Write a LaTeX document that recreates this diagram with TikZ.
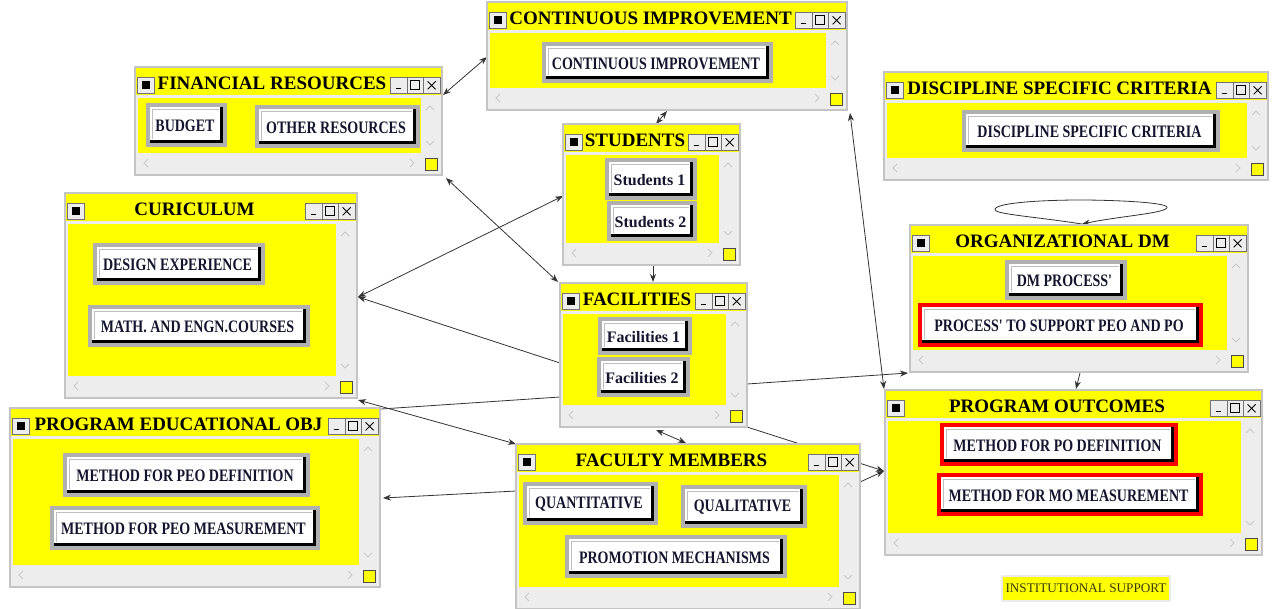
\documentclass[tikz,border=0pt]{standalone}
\usepackage{fontspec}
\setmainfont{Liberation Serif}
\newfontfamily\btnfont[FakeStretch=0.8]{Liberation Serif}
\newcommand\lcb{\rmfamily\fontsize{16}{16}\selectfont}
\usetikzlibrary{arrows.meta,calc}
\definecolor{ylw}{HTML}{FFFF00}
\definecolor{winbg}{HTML}{EDEDED}
\definecolor{winedge}{HTML}{C4C4C4}
\definecolor{bframe}{HTML}{B0B0B0}
\definecolor{btxt}{HTML}{14142E}
\definecolor{chev}{HTML}{C8C8C8}
\definecolor{insttxt}{HTML}{3A3A10}
\pgfdeclarelayer{bg}\pgfsetlayers{bg,main}
\tikzset{
 winframe/.style={draw=winedge, line width=2pt, fill=winbg, inner sep=0pt, outer sep=0pt},
 tbtn/.style={draw=black!55, fill=winbg, line width=0.7pt, inner sep=0pt, minimum height=16pt},
 ttl/.style={font=\bfseries\fontsize{19}{19}\selectfont, text=black, inner sep=0pt},
 btntext/.style={font=\btnfont\bfseries\fontsize{17.5}{17.5}\selectfont, text=btxt, inner sep=0pt},
 conn/.style={draw=black!80, line width=0.8pt},
 tip/.style={-{Stealth[length=8pt,width=6pt]}},
 tips/.style={{Stealth[length=8pt,width=6pt]}-{Stealth[length=8pt,width=6pt]}},
 chv/.style={draw=chev, line width=0.9pt},
}
\newcommand\win[6]{%
 \pgfmathsetmacro\wW{#4-#2}\pgfmathsetmacro\wH{#5-#3}%
 \node[winframe, minimum width=\wW pt, minimum height=\wH pt, anchor=north west] (#1) at (#2,#3) {};
 \fill[ylw] ({#2+1},{#3+1}) rectangle ({#4-1},{#3+28});
 \fill[ylw] ({#2+3},{#3+31}) rectangle ({#4-21},{#5-22});
 \node[tbtn, minimum width=17pt, anchor=north west] (#1-ic) at ({#2+2},{#3+10}) {};
 \fill[black] ([shift={(-4,-4)}]#1-ic.center) rectangle ([shift={(4,4)}]#1-ic.center);
 \node[tbtn, minimum width=16.5pt, anchor=north west] (#1-mn) at ({#4-52},{#3+10}) {};
 \node[tbtn, minimum width=16.5pt, anchor=north west] (#1-mx) at ({#4-35.5},{#3+10}) {};
 \node[tbtn, minimum width=16.5pt, anchor=north west] (#1-cl) at ({#4-19},{#3+10}) {};
 \draw[line width=1.6pt] ([shift={(-3,3)}]#1-mn.center) -- ([shift={(2,3)}]#1-mn.center);
 \draw[line width=0.8pt] ([shift={(-4.5,-4.5)}]#1-mx.center) rectangle ([shift={(4.5,4.5)}]#1-mx.center);
 \draw[line width=0.9pt] ([shift={(-4,-4)}]#1-cl.center) -- ([shift={(4,4)}]#1-cl.center) ([shift={(-4,4)}]#1-cl.center) -- ([shift={(4,-4)}]#1-cl.center);
 \node[ttl] (#1-tt) at ({(#2+#4-33)/2},{#3+16}) {#6};
 \draw[chv] ({#4-16},{#3+43}) -- ({#4-12},{#3+39}) -- ({#4-8},{#3+43});
 \draw[chv] ({#4-16},{#5-34}) -- ({#4-12},{#5-30}) -- ({#4-8},{#5-34});
 \draw[chv] ({#2+13},{#5-16}) -- ({#2+9},{#5-12}) -- ({#2+13},{#5-8});
 \draw[chv] ({#4-32},{#5-16}) -- ({#4-28},{#5-12}) -- ({#4-32},{#5-8});
 \filldraw[fill=ylw, draw=black!70, line width=0.8pt] ({#4-17},{#5-17}) rectangle ({#4-5},{#5-5});
}
\newcommand\btn[7]{%
 \fill[#7] (#2,#3) rectangle (#4,#5);
 \fill[black] ({#2+4},{#3+4}) rectangle ({#4-4},{#5-4});
 \fill[white] ({#2+4},{#3+4}) rectangle ({#4-7},{#5-7});
 \draw[black!25, line width=1pt] ({#2+6},{#5-8.5}) -- ({#2+6},{#3+6}) -- ({#4-8.5},{#3+6});
 \node[btntext] (#1) at ({(#2+#4-3)/2},{(#3+#5)/2+1}) {#6};
}
\begin{document}
\begin{tikzpicture}[x=1pt,y=-1pt]
\useasboundingbox (0,0) rectangle (1277,608);
% windows
\win{fin}{135}{67}{442}{175}{FINANCIAL RESOURCES}
\btn{fin-b1}{146}{103}{227}{147}{BUDGET}{bframe}
\btn{fin-b2}{255}{105}{420}{148}{OTHER RESOURCES}{bframe}
\win{ci}{487}{2}{847}{110}{CONTINUOUS IMPROVEMENT}
\btn{ci-b1}{542}{42}{773}{83}{CONTINUOUS IMPROVEMENT}{bframe}
\win{stu}{563}{124}{740}{265}{STUDENTS}
\btn{stu-b1}{605}{158}{697}{200}{\lcb Students 1}{bframe}
\btn{stu-b2}{607}{201}{697}{241}{\lcb Students 2}{bframe}
\win{dsc}{884}{72}{1268}{180}{DISCIPLINE SPECIFIC CRITERIA}
\btn{dsc-b1}{962}{110}{1220}{152}{DISCIPLINE SPECIFIC CRITERIA}{bframe}
\win{cur}{65}{193}{357}{398}{CURICULUM}
\btn{cur-b1}{93}{243}{265}{285}{DESIGN EXPERIENCE}{bframe}
\btn{cur-b2}{88}{305}{310}{347}{MATH. AND ENGN.COURSES}{bframe}
\win{fac}{560}{283}{747}{427}{FACILITIES}
\btn{fac-b1}{598}{317}{692}{355}{\lcb Facilities 1}{bframe}
\btn{fac-b2}{597}{357}{690}{397}{\lcb Facilities 2}{bframe}
\win{odm}{910}{225}{1248}{372}{ORGANIZATIONAL DM}
\btn{odm-b1}{1005}{260}{1127}{300}{DM PROCESS{\char"27}}{bframe}
\btn{odm-b2}{918}{303}{1203}{347}{PROCESS{\char"27} TO SUPPORT PEO AND PO}{red}
\win{peo}{10}{408}{380}{587}{PROGRAM EDUCATIONAL OBJ}
\btn{peo-b1}{63}{453}{310}{497}{METHOD FOR PEO DEFINITION}{bframe}
\btn{peo-b2}{50}{506}{320}{550}{METHOD FOR PEO MEASUREMENT}{bframe}
\win{fm}{516}{444}{860}{609}{FACULTY MEMBERS}
\btn{fm-b1}{523}{482}{658}{525}{QUANTITATIVE}{bframe}
\btn{fm-b2}{681}{485}{807}{528}{QUALITATIVE}{bframe}
\btn{fm-b3}{565}{535}{787}{578}{PROMOTION MECHANISMS}{bframe}
\win{po}{885}{390}{1262}{555}{PROGRAM OUTCOMES}
\btn{po-b1}{940}{423}{1178}{466}{METHOD FOR PO DEFINITION}{red}
\btn{po-b2}{937}{473}{1203}{516}{METHOD FOR MO MEASUREMENT}{red}
\node[draw=black!8, line width=2pt, fill=ylw, text=insttxt, font=\fontsize{13.2}{14}\selectfont, minimum width=168pt, minimum height=25pt, inner sep=0pt] (inst) at (1086,588) {INSTITUTIONAL SUPPORT};
% connectors
\begin{pgfonlayer}{bg}
\draw[conn,tips] ($(fin.north east)+(1,28)$) -- ($(ci.north west)+(0,55)$);
\draw[conn,tips] ($(ci.south west)+(180,1)$) -- ($(stu.north west)+(93,0)$);
\draw[conn,tip] ($(stu.south west)+(90,1)$) -- ($(fac.north west)+(93,-1)$);
\draw[conn,tips] ($(fin.south east)+(4,3)$) -- ($(fac.north west)+(-2,-1)$);
\draw[conn,tips] ($(stu.north west)+(0,72)$) -- ($(cur.north east)+(1,104)$);
\draw[conn,tip] ($(fac.north west)+(0,80)$) -- ($(cur.north east)+(1,104)$);
\draw[conn] ($(fac.north west)+(0,114)$) -- ($(peo.north east)+(1,1)$);
\draw[conn,tips] ($(cur.south east)+(1,2)$) -- ($(fm.north west)+(0,0)$);
\draw[conn,tip] ($(fm.north west)+(0,47)$) -- ($(peo.north east)+(3,90)$);
\draw[conn,tips] ($(fac.south west)+(96,3)$) -- ($(fm.north west)+(170,-1)$);
\draw[conn,tip] (fac.south east) -- ($(po.north west)+(-1,81)$);
\draw[conn,tip] ($(fm.north east)+(0,38)$) -- ($(po.north west)+(-1,81)$);
\draw[conn,tip] ($(fac.north east)+(0,101)$) -- ($(odm.south west)+(-2,1)$);
\draw[conn,tips] ($(ci.south east)+(3,3)$) -- ($(po.north west)+(-1,-1)$);
\draw[conn,tip] ($(odm.south west)+(170,1)$) -- ($(po.north west)+(191,-1)$);
\coordinate (lp) at ($(odm.north west)+(172,-1)$);
\draw[conn,tip] (lp) .. controls (1030,216) and (992,214) .. (995,209) .. controls (998,202) and (1050,200) .. (1080,200) .. controls (1110,200) and (1164,202) .. (1167,207) .. controls (1169,213) and (1120,216) .. (lp);
\end{pgfonlayer}
\end{tikzpicture}
\end{document}
